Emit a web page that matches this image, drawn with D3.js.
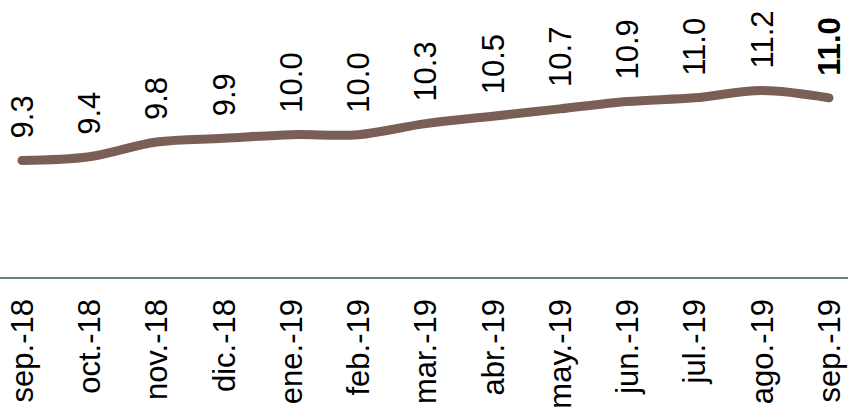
<!DOCTYPE html>
<html>
<head>
<meta charset="utf-8">
<script src="https://cdn.jsdelivr.net/npm/d3@7"></script>
<style>
html,body{margin:0;padding:0;background:#fff;}
svg{display:block;}
text{font-family:"Liberation Sans",Arial,sans-serif;fill:#000;}
</style>
</head>
<body>
<svg id="chart" width="848" height="413"></svg>
<script>
const categories = ["sep.-18","oct.-18","nov.-18","dic.-18","ene.-19","feb.-19","mar.-19","abr.-19","may.-19","jun.-19","jul.-19","ago.-19","sep.-19"];
const values = [9.3, 9.4, 9.8, 9.9, 10.0, 10.0, 10.3, 10.5, 10.7, 10.9, 11.0, 11.2, 11.0];
const valueLabels = ["9.3","9.4","9.8","9.9","10.0","10.0","10.3","10.5","10.7","10.9","11.0","11.2","11.0"];

const W = 848, H = 413;
const svg = d3.select("#chart");

const x = d3.scalePoint().domain(categories).range([22, 829]);
const y = d3.scaleLinear().domain([6, 12]).range([282, 61]);
const axisY = 278;

// category axis line
svg.append("line")
  .attr("x1", 0).attr("x2", W)
  .attr("y1", axisY).attr("y2", axisY)
  .attr("stroke", "#5f867e").attr("stroke-width", 2);

// line
const data = categories.map((c, i) => ({c, v: values[i], l: valueLabels[i]}));
svg.append("path")
  .datum(data)
  .attr("fill", "none")
  .attr("stroke", "#7a5f56")
  .attr("stroke-width", 9)
  .attr("stroke-linecap", "round")
  .attr("stroke-linejoin", "round")
  .attr("d", d3.line().x(d => x(d.c)).y(d => y(d.v)).curve(d3.curveCatmullRom.alpha(0.5)));

// value labels
svg.append("g").selectAll("text")
  .data(data)
  .join("text")
  .attr("transform", d => `translate(${x(d.c)},${y(d.v) - 22}) rotate(-90)`)
  .attr("dy", "0.35em")
  .attr("text-anchor", "start")
  .attr("font-size", 31)
  .attr("font-weight", (d, i) => i === data.length - 1 ? "bold" : "normal")
  .text(d => d.l);

// category labels
svg.append("g").selectAll("text")
  .data(categories)
  .join("text")
  .attr("transform", d => `translate(${x(d)},${axisY + 21}) rotate(-90)`)
  .attr("dy", "0.35em")
  .attr("text-anchor", "end")
  .attr("font-size", 31)
  .text(d => d);
</script>
</body>
</html>
